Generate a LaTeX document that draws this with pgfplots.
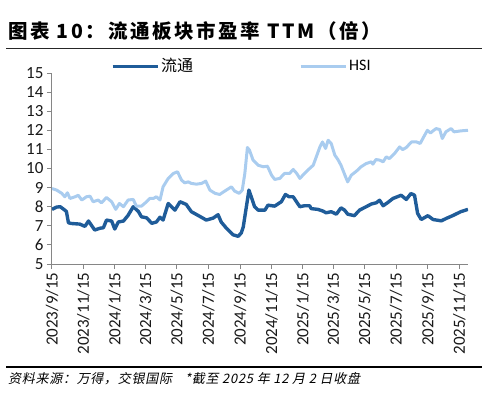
\documentclass[border=0pt]{standalone}
\usepackage{fontspec}
\setmainfont{Carlito}
\newfontfamily\cjk{Noto Sans CJK SC}
\newfontfamily\cjktitle[LetterSpace=13.5]{Noto Sans CJK SC}
\newfontfamily\cjkit[FakeSlant=0.2, LetterSpace=5.5]{Noto Sans CJK SC}
\usepackage{pgfplots}
\usepackage{pgfplotstable}
\pgfplotsset{compat=1.18}

\definecolor{ltt}{HTML}{1F5C99}
\definecolor{hsi}{HTML}{A9CCEF}
\definecolor{axgray}{HTML}{868686}

% x = days since 2023/9/15
\pgfplotstableread{
day pe
0 7.86
9 7.98
16 8.0
25 7.82
28 7.75
32 7.16
38 7.12
54 7.09
64 6.97
71 7.25
83 6.78
93 6.87
100 6.9
106 7.3
116 7.25
122 6.83
129 7.2
139 7.25
148 7.55
158 8.0
168 7.75
174 7.47
184 7.42
194 7.13
203 7.2
210 7.45
216 7.3
226 8.17
239 7.82
249 8.26
261 8.12
271 7.74
287 7.5
300 7.3
313 7.4
323 7.58
329 7.2
339 6.88
352 6.53
362 6.45
368 6.62
372 6.95
383 8.87
394 8.0
401 7.82
414 7.82
420 8.08
433 8.03
446 8.26
454 8.64
461 8.52
469 8.52
482 8.0
491 8.05
501 8.05
504 7.9
517 7.86
527 7.77
533 7.68
543 7.74
553 7.61
562 7.94
569 7.82
575 7.61
588 7.53
598 7.82
611 8.0
621 8.14
631 8.21
637 8.34
644 8.05
653 8.22
663 8.43
679 8.6
689 8.38
698 8.69
705 8.6
711 7.65
718 7.33
731 7.53
741 7.33
757 7.26
767 7.39
779 7.53
795 7.74
809 7.86
}\lttdata

\pgfplotstableread{
day pe
0 8.95
9 8.87
19 8.7
25 8.52
30 8.73
35 8.43
45 8.52
51 8.6
58 8.35
67 8.52
74 8.55
80 8.26
90 8.35
96 8.2
106 8.48
116 8.26
124 7.86
131 8.17
139 8.0
148 8.35
158 8.38
164 8.03
174 8.03
184 8.26
190 8.43
197 8.43
203 8.52
210 8.35
216 9.04
226 9.48
236 9.74
244 9.83
252 9.39
258 9.25
265 9.3
271 9.22
281 9.18
291 9.22
299 9.34
307 8.87
317 8.7
326 8.64
339 8.87
349 9.04
355 8.82
364 8.7
370 8.87
375 9.74
380 11.1
384 10.96
391 10.44
401 10.17
411 10.09
419 10.12
427 9.65
433 9.43
443 9.48
452 9.74
462 9.74
469 9.95
476 9.74
482 9.48
491 9.74
501 10.0
508 10.17
514 10.61
521 11.13
526 11.39
532 11.05
537 11.48
543 11.31
550 10.7
556 10.47
562 10.17
571 9.56
575 9.3
582 9.65
592 9.86
601 10.09
611 10.26
621 10.35
624 10.23
630 10.47
637 10.44
644 10.35
650 10.61
656 10.52
666 10.78
676 11.13
682 10.99
689 11.1
699 11.39
709 11.39
716 11.31
723 11.66
730 12.0
736 11.86
741 11.97
747 12.09
754 12.04
759 11.57
766 11.92
776 12.09
782 11.92
795 11.97
809 12.0
}\hsidata

\begin{document}
\begin{tikzpicture}
\path[use as bounding box] (0,0) rectangle (488bp,-401bp);
\node[anchor=west, inner sep=0pt] at (8bp,-31.5bp)
  {\cjktitle\bfseries\fontsize{19.5bp}{21bp}\selectfont 图表 10：流通板块市盈率 TTM（倍）};
\draw[line width=1bp, black!85] (6bp,-48bp) -- (482bp,-48bp);

\begin{axis}[
    at={(52bp,-264bp)}, anchor=south west,
    scale only axis,
    width=416bp, height=191bp,
    xmin=0, xmax=809, ymin=5, ymax=15,
    axis lines*=left,
    axis line style={axgray, line width=1bp, -},
    tick align=outside,
    major tick length=5bp,
    tick style={axgray, line width=1bp},
    ytick={5,6,...,15},
    xtick={0,61,122,182,243,304,366,427,488,547,608,669,731,792},
    xticklabels={2023/9/15,2023/11/15,2024/1/15,2024/3/15,2024/5/15,2024/7/15,2024/9/15,2024/11/15,2025/1/15,2025/3/15,2025/5/15,2025/7/15,2025/9/15,2025/11/15},
    /pgf/number format/assume math mode=true,
    tick label style={font=\fontsize{17bp}{17bp}\selectfont, black!90},
    xticklabel style={rotate=90, anchor=east},
    legend style={draw=none, fill=none, at={(axis description cs:0,1)},
        anchor=west, xshift=59bp, yshift=7bp, inner sep=0pt,
        nodes={inner sep=0pt, inner xsep=2bp},
        /tikz/every even column/.append style={column sep=104bp}},
    legend columns=2,
    legend image code/.code={\draw[#1, line width=3bp] (0bp,0bp) -- (45bp,0bp);},
]
\addplot[ltt, line width=3.4bp, line join=round, no markers] table[x=day, y=pe] {\lttdata};
\addlegendentry{\cjk\fontsize{16bp}{16bp}\selectfont 流通}
\addplot[hsi, line width=3bp, line join=round, no markers] table[x=day, y=pe] {\hsidata};
\addlegendentry{\fontsize{16bp}{16bp}\selectfont HSI}
\end{axis}

\draw[line width=1.5bp, black] (6bp,-367bp) -- (482bp,-367bp);
\node[anchor=west, inner sep=0pt] at (8bp,-379bp)
  {\cjkit\fontsize{13bp}{14bp}\selectfont 资料来源：万得，交银国际\quad *截至 2025 年 12 月 2 日收盘};
\end{tikzpicture}
\end{document}
